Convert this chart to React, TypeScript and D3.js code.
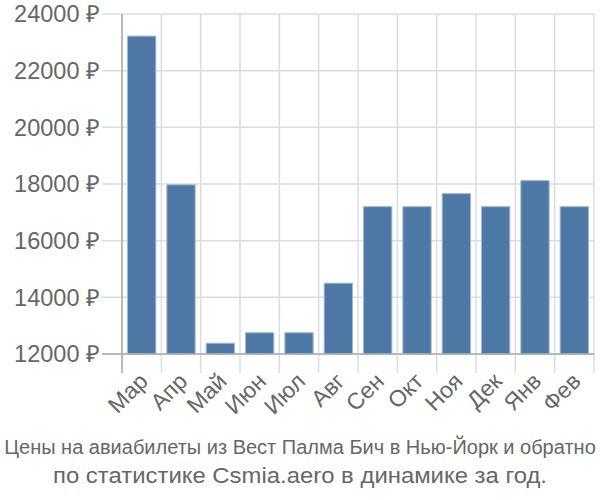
import React, { useRef, useEffect } from 'react';
import * as d3 from 'd3';

const months = ['Мар', 'Апр', 'Май', 'Июн', 'Июл', 'Авг', 'Сен', 'Окт', 'Ноя', 'Дек', 'Янв', 'Фев'];
const prices = [23220, 17970, 12380, 12750, 12750, 14500, 17200, 17200, 17660, 17200, 18120, 17200];
const yTicks = [12000, 14000, 16000, 18000, 20000, 22000, 24000];
const titleLines = [
  'Цены на авиабилеты из Вест Палма Бич в Нью-Йорк и обратно',
  'по статистике Csmia.aero в динамике за год.',
];

const App: React.FC = () => {
  const svgRef = useRef<SVGSVGElement | null>(null);

  useEffect(() => {
    if (!svgRef.current) return;
    const w = 600;
    const h = 500;
    const left = 122;
    const right = 594;
    const top = 14;
    const bottom = 354;

    const svg = d3.select(svgRef.current).attr('width', w).attr('height', h);
    svg.selectAll('*').remove();

    const x = d3.scaleBand<string>().domain(months).range([left, right]).paddingInner(0.28).paddingOuter(0.14);
    const y = d3.scaleLinear().domain([12000, 24000]).range([bottom, top]);
    const step = x.step();

    // horizontal grid (extends left as tick)
    svg
      .append('g')
      .selectAll('line')
      .data(yTicks)
      .join('line')
      .attr('x1', left - 20)
      .attr('x2', right)
      .attr('y1', (d) => y(d))
      .attr('y2', (d) => y(d))
      .attr('stroke', '#dddddd')
      .attr('stroke-width', 1.5);

    // vertical grid at band edges (extends down as tick)
    svg
      .append('g')
      .selectAll('line')
      .data(d3.range(months.length + 1))
      .join('line')
      .attr('x1', (i) => left + i * step)
      .attr('x2', (i) => left + i * step)
      .attr('y1', top)
      .attr('y2', bottom + 19)
      .attr('stroke', '#dddddd')
      .attr('stroke-width', 1.5);

    svg
      .append('g')
      .selectAll('rect')
      .data(prices)
      .join('rect')
      .attr('x', (_, i) => x(months[i]) as number)
      .attr('width', x.bandwidth())
      .attr('y', (d) => y(d))
      .attr('height', (d) => bottom - y(d))
      .attr('fill', '#4e79a7')
      .attr('stroke', '#a3b8cf')
      .attr('stroke-width', 1);

    // axis lines
    svg.append('line').attr('x1', left).attr('x2', left).attr('y1', top).attr('y2', bottom + 19)
      .attr('stroke', '#aaaaaa').attr('stroke-width', 1.5);
    svg.append('line').attr('x1', left - 20).attr('x2', right).attr('y1', bottom).attr('y2', bottom)
      .attr('stroke', '#aaaaaa').attr('stroke-width', 1.5);

    svg
      .append('g')
      .selectAll('text')
      .data(yTicks)
      .join('text')
      .attr('x', left - 22)
      .attr('y', (d) => y(d))
      .attr('dy', '0.35em')
      .attr('text-anchor', 'end')
      .attr('font-family', 'Liberation Sans, Arial, sans-serif')
      .attr('font-size', 23.5)
      .attr('fill', '#666666')
      .text((d) => `${d} ₽`);

    svg
      .append('g')
      .selectAll('text')
      .data(months)
      .join('text')
      .attr('transform', (d) => `translate(${(x(d) as number) + x.bandwidth() / 2 + 2},${bottom + 23}) rotate(-45)`)
      .attr('text-anchor', 'end')
      .attr('dy', '0.35em')
      .attr('font-family', 'Liberation Sans, Arial, sans-serif')
      .attr('font-size', 23)
      .attr('fill', '#666666')
      .text((d) => d);

    // title, two centred lines
    svg
      .append('text')
      .attr('x', 300)
      .attr('y', 454)
      .attr('text-anchor', 'middle')
      .attr('font-family', 'Liberation Sans, Arial, sans-serif')
      .attr('font-size', 20)
      .attr('fill', '#666666')
      .text(titleLines[0]);

    svg
      .append('text')
      .attr('x', 300)
      .attr('y', 483)
      .attr('text-anchor', 'middle')
      .attr('font-family', 'Liberation Sans, Arial, sans-serif')
      .attr('font-size', 22.5)
      .attr('fill', '#666666')
      .attr('textLength', 494)
      .attr('lengthAdjust', 'spacingAndGlyphs')
      .text(titleLines[1]);
  }, []);

  return (
    <div style={{ position: 'absolute', left: 0, top: 0 }}>
      <svg ref={svgRef}></svg>
    </div>
  );
};

export default App;
